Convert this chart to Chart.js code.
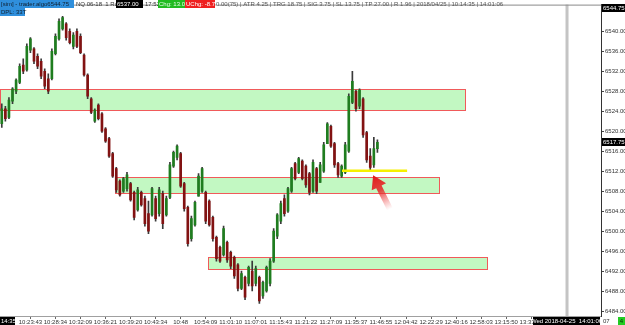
<!DOCTYPE html>
<html>
<head>
<meta charset="utf-8">
<script src="https://cdn.jsdelivr.net/npm/chart.js@4"></script>
<style>
  html, body { margin: 0; padding: 0; background: #fff; }
  #wrap { width: 625px; height: 325px; }
</style>
</head>
<body>
<div id="wrap"><canvas id="chart" width="625" height="325"></canvas></div>
<script>
// ─── Data ─────────────────────────────────────────────────────
const opens = [6521.5,6524.5,6522.75,6526,6528,6529.75,6533.25,6532.25,6536.25,6536.5,
  6535,6534,6532,6530.5,6530.5,6535.5,6538.5,6540.5,6541.5,6540,
  6537,6540,6539,6535.25,6531.25,6526.5,6522,6525.25,6523.5,6520.5,
  6518.5,6515.5,6512.5,6510,6508,6508.5,6509.5,6507.75,6504.25,6507.75,
  6506.5,6503.5,6503.25,6506.5,6503.5,6507.5,6503.25,6506.75,6513,6514.75,
  6515.5,6509.5,6504.75,6498.5,6501.25,6507,6508,6507.75,6506,6502.75,
  6498.75,6496.75,6495.25,6497.75,6495.75,6494.75,6493.25,6488.5,6490.75,6489.5,
  6492,6489.5,6490.75,6487,6488,6489.5,6494,6499,6502,6506.5,
  6504,6508,6513.5,6511.75,6514,6513,6511.5,6508,6512.5,6509.75,
  6512,6517.5,6521,6517.5,6513.5,6511,6511.75,6516,6525.75,6528,
  6525,6526.5,6519.75,6515,6513.25,6516.5];
const highs = [6525.5,6525,6526.75,6528.75,6530.5,6533.5,6534.5,6537.5,6538.75,6536.75,
  6535.5,6534.5,6532.5,6531.5,6536.5,6539.5,6542.5,6543,6541.75,6540.5,
  6539.75,6540.5,6539.5,6535.5,6531.5,6526.75,6524.5,6525.5,6523.75,6520.75,
  6518.75,6515.75,6512.75,6510.25,6510.75,6511.75,6509.75,6508,6508.75,6508,
  6507,6506,6508.75,6507,6508.75,6508,6507,6513.75,6516,6517.25,
  6515.75,6509.75,6505,6503,6506,6511.5,6512.75,6508,6506.25,6503,
  6499,6497,6501,6498,6496,6495,6493.5,6492,6491,6493,
  6494,6493,6491,6490,6493,6494.5,6500.5,6503.5,6506,6507.25,
  6508.75,6512.75,6513.75,6514.75,6514.25,6513.25,6511.75,6514.25,6512.75,6513.75,
  6517.75,6521.75,6521.25,6517.75,6513.75,6513.25,6517.75,6527.5,6532,6528.25,
  6528.5,6526.75,6520,6516.5,6518.75,6518.25];
const lows = [6520.75,6522,6522.5,6525.5,6527.5,6529.5,6531.5,6532,6535.75,6533.5,
  6532.5,6530.5,6528.5,6527.5,6530.25,6535.25,6538.25,6540.25,6538.25,6537.5,
  6536.5,6536.75,6535.5,6531,6526.5,6523.5,6521.75,6522.25,6519.75,6517.75,
  6514.75,6510.75,6507.75,6507,6507.75,6508,6506,6502.25,6504,6505,
  6501,6499.5,6503,6502,6503,6500.5,6503,6506.5,6512.75,6514.25,
  6508.75,6504,6497,6498,6501,6507,6507.75,6501.5,6501,6498,
  6494,6493.75,6495,6493.75,6492.5,6490.5,6488,6488.25,6486.25,6489,
  6488,6489,6485.5,6486.5,6487.75,6489,6493.75,6498.5,6501.5,6503,
  6503.75,6507.75,6510.25,6511.5,6510.25,6508.75,6507.25,6507.75,6507.5,6509.75,
  6511.75,6517.5,6516.75,6512.75,6510.75,6510.75,6511.5,6515.75,6525.5,6524,
  6524.5,6518.75,6513.75,6512.25,6512.75,6515.75];
const closes = [6524.5,6522.5,6526.25,6528.5,6530.25,6533,6532,6537,6538.5,6534,
  6533,6531,6529,6528,6536,6539,6542,6542.75,6538.75,6537.75,
  6539.25,6537,6535.75,6531.25,6527,6523.75,6524.25,6522.5,6520,6518,
  6515,6511,6508.25,6507.25,6510.5,6511.25,6506.25,6502.75,6508.25,6505.25,
  6501.5,6500,6508.5,6502.5,6508.25,6501.5,6506.5,6513.25,6515.75,6517,
  6509,6504.5,6497.5,6502.5,6505.75,6511,6512.5,6502,6501.25,6498.5,
  6494.5,6494,6500.5,6494.25,6493,6491,6488.5,6491.5,6486.75,6492.75,
  6489,6492.5,6486,6489.75,6492.75,6494,6500,6503.25,6505.5,6503.5,
  6508.5,6512.5,6510.5,6514.5,6510.5,6509.25,6507.75,6513.75,6508,6513.25,
  6517.25,6521.5,6517,6513.25,6511.25,6513,6517.25,6527,6530,6524.5,
  6528.25,6519.25,6514.25,6512.75,6516.5,6517.75];

// time labels on the bottom axis (one every 7 bar slots)
const tickTimes = ['10:23:43','10:28:34','10:32:09','10:36:21','10:39:20','10:43:34','10:48',
  '10:54:09','11:01:10','11:07:01','11:15:43','11:21:22','11:27:09','11:35:37','11:46:55',
  '12:04:42','12:22:29','12:40:16','12:58:03','13:15:50','13:33:37'];
const yTicks = [6484,6488,6492,6496,6500,6504,6508,6512,6516,6520,6524,6528,6532,6536,6540];

// supply / demand zones: [fromSlot, toSlot, top, bottom]
const zones = [
  [-0.5, 129.5, 6528.4, 6524.2],
  [31.6, 122.2, 6510.9, 6507.6],
  [57.6, 135.6, 6494.8, 6492.4],
];
const yellowLine = [95.1, 113.3, 6512.1];
const arrowTip  = [103.8, 6511.2];
const arrowTail = [108.5, 6504.4];
const cursorSlot = 158;
const lastPrice = 6517.75;
const topPrice  = 6544.75;

const SLOTS = 168;
const xLabels = Array.from({ length: SLOTS }, (_, i) =>
  (i >= 8 && (i - 8) % 7 === 0 && tickTimes[(i - 8) / 7]) ? tickTimes[(i - 8) / 7] : '');

const BULL = '#1f7d1f', BEAR = '#821212', WICK = '#3a3a3a';
const FONT = '"Liberation Sans", Arial, sans-serif';

// ─── Overlays ─────────────────────────────────────────────────
function box(ctx, x, y, w, h, bg, txt, fg, align) {
  ctx.fillStyle = bg;
  ctx.fillRect(x, y, w, h);
  ctx.fillStyle = fg;
  ctx.textAlign = align || 'left';
  ctx.fillText(txt, align === 'center' ? x + w / 2 : x + 1, y + h / 2 + 0.5);
}

const overlay = {
  id: 'overlay',
  beforeDatasetsDraw(chart) {
    const { ctx, chartArea: a, scales: { x, y } } = chart;
    ctx.save();
    // cursor line
    const cx = x.getPixelForValue(cursorSlot);
    ctx.fillStyle = '#c4c4c4';
    ctx.fillRect(cx - 1.5, a.top, 3, a.bottom - a.top);
    // top frame line
    ctx.fillStyle = '#8a8a8a';
    ctx.fillRect(a.left, a.top, a.right - a.left, 1);
    // zones
    zones.forEach(([s, e, t, b]) => {
      const x0 = Math.round(x.getPixelForValue(s)) + 0.5, x1 = Math.round(x.getPixelForValue(e)) + 0.5;
      const y0 = Math.round(y.getPixelForValue(t)) + 0.5, y1 = Math.round(y.getPixelForValue(b)) + 0.5;
      ctx.fillStyle = '#c2f8c2';
      ctx.fillRect(x0, y0, x1 - x0, y1 - y0);
      ctx.strokeStyle = '#f05a5a';
      ctx.lineWidth = 1;
      ctx.strokeRect(x0, y0, x1 - x0, y1 - y0);
    });
    ctx.restore();
  },
  afterDatasetsDraw(chart) {
    const { ctx, scales: { x, y } } = chart;
    ctx.save();
    // yellow level
    ctx.strokeStyle = '#f5f000';
    ctx.lineWidth = 2.5;
    ctx.beginPath();
    ctx.moveTo(x.getPixelForValue(yellowLine[0]), y.getPixelForValue(yellowLine[2]));
    ctx.lineTo(x.getPixelForValue(yellowLine[1]), y.getPixelForValue(yellowLine[2]));
    ctx.stroke();
    // red arrow
    const tx = x.getPixelForValue(arrowTip[0]), ty = y.getPixelForValue(arrowTip[1]);
    const sx = x.getPixelForValue(arrowTail[0]), sy = y.getPixelForValue(arrowTail[1]);
    const len = Math.hypot(tx - sx, ty - sy);
    const ux = (tx - sx) / len, uy = (ty - sy) / len;
    const nx = -uy, ny = ux;
    const head = 13, hw = 8, sw = 3;
    const bx = tx - ux * head, by = ty - uy * head;
    const grad = ctx.createLinearGradient(tx, ty, sx, sy);
    grad.addColorStop(0, 'rgba(225,25,25,1)');
    grad.addColorStop(0.45, 'rgba(230,40,40,0.85)');
    grad.addColorStop(1, 'rgba(240,80,80,0)');
    ctx.fillStyle = grad;
    ctx.beginPath();
    ctx.moveTo(tx, ty);
    ctx.lineTo(bx + nx * hw, by + ny * hw);
    ctx.lineTo(bx + nx * sw, by + ny * sw);
    ctx.lineTo(sx + nx * sw, sy + ny * sw);
    ctx.lineTo(sx - nx * sw, sy - ny * sw);
    ctx.lineTo(bx - nx * sw, by - ny * sw);
    ctx.lineTo(bx - nx * hw, by - ny * hw);
    ctx.closePath();
    ctx.fill();
    ctx.restore();
  },
  afterDraw(chart) {
    const { ctx, chartArea: a, scales: { x, y } } = chart;
    ctx.save();
    ctx.font = '6px ' + FONT;
    ctx.textBaseline = 'middle';
    // header
    box(ctx, 0, 0, 74, 8, '#2f8fdc', '[sim] - trader.algo6544.75', '#102030');
    box(ctx, 0, 8, 25, 8, '#2f8fdc', 'DPL: 33T', '#102030');
    ctx.fillStyle = '#333';
    ctx.textAlign = 'left';
    ctx.fillText('NQ 06-18  1 Range  #1', 76, 4.5);
    box(ctx, 116, 0, 27, 8, '#000', '6537.00', '#fff');
    ctx.fillStyle = '#333';
    ctx.fillText('17:52', 145, 4.5);
    box(ctx, 158, 0, 27, 8, '#22bb22', 'Chg: 13.0', '#eaffea');
    box(ctx, 185, 0, 30, 8, '#ee2020', 'UChg: -8.75', '#fff');
    ctx.fillStyle = '#555';
    ctx.textAlign = 'left';
    ctx.fillText('0.00(75) | ATR 4.25 | TRG 18.75 | SIG 3.75 | SL 13.75 | TP 27.00 | R 1.96 | 2018/04/25 | 10:14:35 | 14:01:06', 216, 4.5);
    // price boxes on the axis
    const py = y.getPixelForValue(lastPrice);
    box(ctx, a.right + 1, Math.round(py) - 4, 24, 8, '#000', lastPrice.toFixed(2), '#fff');
    const ty = y.getPixelForValue(topPrice);
    box(ctx, a.right + 1, Math.round(ty) - 4, 24, 8, '#000', topPrice.toFixed(2), '#fff');
    // bottom axis boxes
    box(ctx, 0, a.bottom + 1, 15, 8, '#000', '14:35', '#fff');
    const cx = x.getPixelForValue(cursorSlot);
    box(ctx, cx - 34, a.bottom + 1, 67, 8, '#000', 'Wed 2018-04-25  14:01:06', '#fff', 'center');
    ctx.fillStyle = '#333';
    ctx.textAlign = 'left';
    ctx.fillText('07', a.right + 2, a.bottom + 5.5);
    box(ctx, 618, a.bottom + 1, 7, 8, '#22cc22', '4', '#003300', 'center');
    ctx.restore();
  },
};

// ─── Chart ────────────────────────────────────────────────────
const bodyColors = opens.map((o, i) => closes[i] >= o ? BULL : BEAR);

new Chart(document.getElementById('chart'), {
  type: 'bar',
  data: {
    labels: xLabels,
    datasets: [
      {
        label: 'body',
        data: opens.map((o, i) => [o, closes[i]]),
        backgroundColor: bodyColors,
        barThickness: 2,
        grouped: false,
      },
      {
        label: 'wick',
        data: lows.map((l, i) => [l, highs[i]]),
        backgroundColor: WICK,
        barThickness: 1,
        grouped: false,
      },
    ],
  },
  options: {
    responsive: false,
    animation: false,
    devicePixelRatio: 1,
    layout: { padding: 0 },
    plugins: { legend: { display: false }, tooltip: { enabled: false } },
    scales: {
      x: {
        type: 'category',
        offset: true,
        grid: {
          offset: false,
          drawOnChartArea: false,
          tickLength: 3,
          color: (c) => (c.tick && c.tick.label) ? '#666' : 'rgba(0,0,0,0)',
        },
        border: { color: '#a0a0a0' },
        ticks: {
          autoSkip: false, maxRotation: 0, minRotation: 0, padding: 0,
          color: '#333', font: { size: 6, family: FONT },
        },
        afterFit: (s) => { s.height = 9; },
      },
      y: {
        position: 'right',
        min: 6483,
        max: 6545.35,
        afterBuildTicks: (s) => { s.ticks = yTicks.map((v) => ({ value: v })); },
        afterFit: (s) => { s.width = 24; },
        grid: { drawOnChartArea: false, tickLength: 3, color: '#444' },
        border: { color: '#333' },
        ticks: {
          padding: 1, color: '#333', font: { size: 6, family: FONT },
          callback: (v) => Number(v).toFixed(2),
        },
      },
    },
  },
  plugins: [overlay],
});
</script>
</body>
</html>
